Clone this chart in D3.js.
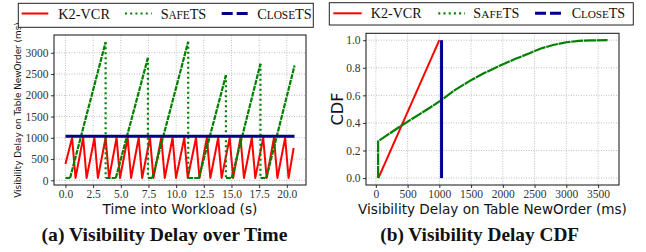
<!DOCTYPE html>
<html>
<head>
<meta charset="utf-8">
<script src="https://cdn.jsdelivr.net/npm/d3@7"></script>
<style>
  body { margin: 0; background: #fff; }
  svg { display: block; }
</style>
</head>
<body>
<svg id="chart" width="646" height="252"></svg>
<script>
// ---- data ----
// (a) visibility delay over time
const k2Time  = [0, 0.60, 0.91, 1.60, 1.91, 2.62, 2.93, 3.63, 3.94, 4.62, 4.93, 5.62, 5.93, 6.62, 6.93,
                 7.64, 7.95, 8.66, 8.97, 9.68, 9.99, 10.74, 11.05, 11.80, 12.11, 12.78, 13.09, 13.80, 14.11,
                 14.84, 15.15, 15.82, 16.13, 16.84, 17.15, 17.87, 18.18, 18.84, 19.15, 19.85, 20.16, 20.62];
const k2Delay = [384, 1000, 55, 1000, 55, 1000, 55, 1000, 55, 1000, 55, 1000, 55, 1000, 55,
                 1000, 55, 1000, 55, 1000, 55, 1000, 55, 1000, 55, 1000, 55, 1000, 55,
                 1000, 55, 1000, 55, 1000, 55, 1000, 55, 1000, 55, 1000, 55, 760];

const safeTime  = [0, 0.42, 3.63, 3.63, 4.55, 7.45, 7.45, 7.85, 11.09, 11.09, 12.05, 14.50, 14.50, 15.02, 17.62, 17.62, 18.15, 20.70];
const safeDelay = [55, 55, 3250, 55, 55, 2880, 55, 55, 3260, 55, 55, 2470, 55, 55, 2740, 55, 55, 2700];

const closeTime  = [0, 20.70];
const closeDelay = [1035, 1035];

// (b) CDF of visibility delay
const cdfK2Delay = [40, 1000];
const cdfK2      = [0, 1];
const cdfSafeDelay = [36, 36, 400, 850, 1030, 1250, 1480, 1700, 1950, 2200, 2420, 2600, 2790, 3000, 3200, 3400, 3650];
const cdfSafe      = [0, 0.267, 0.38, 0.51, 0.565, 0.64, 0.705, 0.76, 0.815, 0.865, 0.905, 0.94, 0.965, 0.985, 0.995, 0.999, 1.0];
const cdfCloseDelay = [1035, 1035];
const cdfClose      = [0, 1];

// ticks
const timeTicks  = [0, 2.5, 5, 7.5, 10, 12.5, 15, 17.5, 20];
const delayTicks = [0, 500, 1000, 1500, 2000, 2500, 3000];
const cdfXTicks  = [0, 500, 1000, 1500, 2000, 2500, 3000, 3500];
const cdfYTicks  = [0, 0.2, 0.4, 0.6, 0.8, 1.0];

const legendNames = ['K2-VCR', 'SafeTS', 'CloseTS'];

// ---- styles ----
const serif = "'Liberation Serif', 'DejaVu Serif', serif";
const sans = "'DejaVu Sans', sans-serif";
const red = '#ff0000', green = '#008000', blue = '#00008b';

const svg = d3.select('#chart');

function zip(a, b) { return a.map((v, i) => [v, b[i]]); }

// shrink/grow a text so it spans the given width
function fit(text, width) {
    const fs = parseFloat(text.attr('font-size'));
    const w = text.node().getComputedTextLength();
    text.attr('font-size', (fs * width / w).toFixed(2));
}

function drawPanel(box, xDomain, yDomain, xTicks, yTicks, xFmt, yFmt) {
    const x = d3.scaleLinear().domain(xDomain).range([box.x0, box.x1]);
    const y = d3.scaleLinear().domain(yDomain).range([box.y1, box.y0]);
    const g = svg.append('g');

    // grid
    g.selectAll('.gx').data(xTicks).join('line')
        .attr('x1', d => x(d)).attr('x2', d => x(d))
        .attr('y1', box.y0).attr('y2', box.y1)
        .attr('stroke', '#b0b0b0').attr('stroke-width', 0.8).attr('stroke-dasharray', '1,1.5');
    g.selectAll('.gy').data(yTicks).join('line')
        .attr('y1', d => y(d)).attr('y2', d => y(d))
        .attr('x1', box.x0).attr('x2', box.x1)
        .attr('stroke', '#b0b0b0').attr('stroke-width', 0.8).attr('stroke-dasharray', '1,1.5');

    // axes
    const ax = g.append('g').attr('transform', 'translate(0,' + box.y1 + ')')
        .call(d3.axisBottom(x).tickValues(xTicks).tickFormat(xFmt).tickSize(3).tickPadding(2));
    const ay = g.append('g').attr('transform', 'translate(' + box.x0 + ',0)')
        .call(d3.axisLeft(y).tickValues(yTicks).tickFormat(yFmt).tickSize(3).tickPadding(2.5));
    [ax, ay].forEach(a => {
        a.select('.domain').remove();
        a.selectAll('text').attr('font-family', serif).attr('font-size', 11.5).attr('fill', '#333');
        a.selectAll('line').attr('stroke', '#333');
    });
    return {x, y, g};
}

function drawFrame(box) {
    svg.append('rect')
        .attr('x', box.x0).attr('y', box.y0)
        .attr('width', box.x1 - box.x0).attr('height', box.y1 - box.y0)
        .attr('fill', 'none').attr('stroke', '#111').attr('stroke-width', 1);
}

function linePath(p, xs, ys) {
    return d3.line().x(d => p.x(d[0])).y(d => p.y(d[1]))(zip(xs, ys));
}

// ---- (a) delay over time ----
const boxA = {x0: 54, x1: 306, y0: 35, y1: 185};
const pA = drawPanel(boxA, [-1.035, 21.735], [-110, 3418], timeTicks, delayTicks, d3.format('.1f'), d3.format('d'));

pA.g.append('path').attr('d', linePath(pA, k2Time, k2Delay))
    .attr('fill', 'none').attr('stroke', red).attr('stroke-width', 2).attr('stroke-linejoin', 'round');

// SafeTS: rising parts look nearly solid, the drops are clearly dotted
for (let i = 0; i < safeTime.length - 1; i++) {
    const drop = safeDelay[i + 1] < safeDelay[i];
    pA.g.append('path')
        .attr('d', linePath(pA, safeTime.slice(i, i + 2), safeDelay.slice(i, i + 2)))
        .attr('fill', 'none').attr('stroke', green).attr('stroke-width', 2.2)
        .attr('stroke-dasharray', drop ? '2,3' : '5,1');
}

pA.g.append('path').attr('d', linePath(pA, closeTime, closeDelay))
    .attr('fill', 'none').attr('stroke', blue).attr('stroke-width', 3);
drawFrame(boxA);

// ---- (b) CDF ----
const boxB = {x0: 366, x1: 619, y0: 33.3, y1: 185};
const pB = drawPanel(boxB, [-155, 3830], [-0.05, 1.05], cdfXTicks, cdfYTicks, d3.format('d'), d3.format('.1f'));

pB.g.append('path').attr('d', linePath(pB, cdfK2Delay, cdfK2))
    .attr('fill', 'none').attr('stroke', red).attr('stroke-width', 2);
pB.g.append('path').attr('d', linePath(pB, cdfSafeDelay, cdfSafe))
    .attr('fill', 'none').attr('stroke', green).attr('stroke-width', 2.2).attr('stroke-dasharray', '12,0.8');
pB.g.append('path').attr('d', linePath(pB, cdfCloseDelay, cdfClose))
    .attr('fill', 'none').attr('stroke', blue).attr('stroke-width', 3);
drawFrame(boxB);

// ---- axis labels ----
fit(svg.append('text').attr('x', 180).attr('y', 214).attr('text-anchor', 'middle')
    .attr('font-family', sans).attr('font-size', 12).attr('fill', '#111')
    .text('Time into Workload (s)'), 155);
fit(svg.append('text').attr('x', 492.5).attr('y', 214).attr('text-anchor', 'middle')
    .attr('font-family', sans).attr('font-size', 12).attr('fill', '#111')
    .text('Visibility Delay on Table NewOrder (ms)'), 269);
fit(svg.append('text').attr('transform', 'translate(21,110) rotate(-90)').attr('text-anchor', 'middle')
    .attr('font-family', sans).attr('font-size', 9).attr('fill', '#111')
    .text('Visibility Delay on Table NewOrder (ms)'), 176);
fit(svg.append('text').attr('transform', 'translate(343,109) rotate(-90)').attr('text-anchor', 'middle')
    .attr('font-family', sans).attr('font-size', 14).attr('fill', '#111')
    .text('CDF'), 33);

// ---- captions ----
fit(svg.append('text').attr('x', 164.5).attr('y', 241).attr('text-anchor', 'middle')
    .attr('font-family', serif).attr('font-weight', 'bold').attr('font-size', 15).attr('fill', '#111')
    .text('(a) Visibility Delay over Time'), 246);
fit(svg.append('text').attr('x', 479.7).attr('y', 241).attr('text-anchor', 'middle')
    .attr('font-family', serif).attr('font-weight', 'bold').attr('font-size', 15).attr('fill', '#111')
    .text('(b) Visibility Delay CDF'), 199);

// ---- legends ----
const legendStyles = [
    {color: red, width: 2, dash: null},
    {color: green, width: 2.2, dash: '2,3.2'},
    {color: blue, width: 3, dash: '11,4'}
];

// small caps by hand: lowercase runs become smaller capitals
function smallCaps(t, name, fs) {
    name.match(/[a-z]+|[^a-z]+/g).forEach(run => {
        const lower = /[a-z]/.test(run);
        t.append('tspan')
            .attr('font-size', lower ? fs * 0.8 : fs)
            .text(lower ? run.toUpperCase() : run);
    });
}

function drawLegend(box, samples, textX, textW, lineY, baseY) {
    svg.append('rect')
        .attr('x', box[0]).attr('y', box[1])
        .attr('width', box[2] - box[0]).attr('height', box[3] - box[1])
        .attr('fill', '#fff').attr('stroke', '#222').attr('stroke-width', 1);
    let fontSize = 13;
    legendNames.forEach((name, i) => {
        const s = legendStyles[i];
        svg.append('line')
            .attr('x1', samples[i][0]).attr('x2', samples[i][1])
            .attr('y1', lineY).attr('y2', lineY)
            .attr('stroke', s.color).attr('stroke-width', s.width)
            .attr('stroke-dasharray', s.dash);
        const t = svg.append('text')
            .attr('x', textX[i]).attr('y', baseY)
            .attr('font-family', serif).attr('font-size', fontSize).attr('fill', '#111');
        if (i === 0) {
            t.text(name);
            fit(t, textW[0]);
            fontSize = +t.attr('font-size');
        } else {
            smallCaps(t, name, fontSize);
            const extra = textW[i] - t.node().getComputedTextLength();
            t.attr('letter-spacing', (extra / name.length).toFixed(2));
        }
    });
}

drawLegend([18.3, 3.3, 313.3, 27.3], [[21.7, 48.3], [125, 151.7], [221.7, 248.3]], [58.3, 160.7, 257.3], [51.7, 45.3, 54.3], 13.5, 18.8);
drawLegend([329.3, 2.7, 633.3, 25], [[333.3, 361.7], [438.3, 465], [535, 562.7]], [370.7, 473.3, 571.7], [51, 46, 53.3], 13.3, 18);
</script>
</body>
</html>
